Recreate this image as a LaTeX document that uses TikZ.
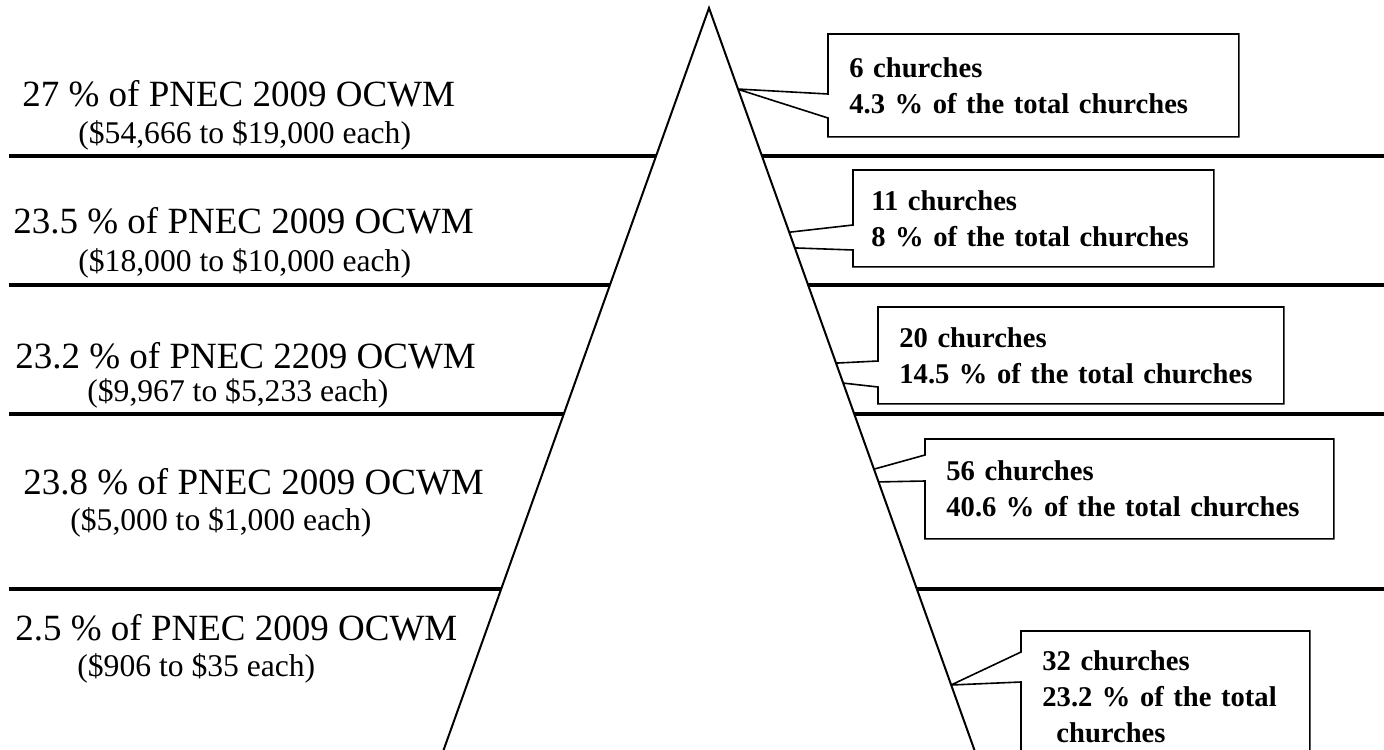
\documentclass[tikz,border=0pt]{standalone}
\usepackage{fontspec}
\setmainfont{Liberation Serif}
\tikzset{
sharetext/.style={anchor=base west, inner sep=0pt, font=\fontsize{18.5}{22}\selectfont},
spantext/.style={anchor=base west, inner sep=0pt, font=\fontsize{15.8}{19}\selectfont},
countbox/.style={anchor=north west, align=left, inner xsep=10.5pt, inner ysep=0pt,
    font=\bfseries\fontsize{14.3}{18}\selectfont},
band/.style={line width=2pt},
wedge/.style={draw, line width=0.8pt}}

\begin{document}
\begin{tikzpicture}[x=0.5pt, y=-0.5pt]
\useasboundingbox (0,0) rectangle (1384,749);

                \foreach \y in {156,285,414,589}
                    \draw[band] (9,\y) -- (1384,\y);

                \node[sharetext] (S1) at (22,106) {27 \% of PNEC 2009 OCWM};
                \node[spantext] (R1) at (78,143) {(\$54,666 to \$19,000 each)};
                \node[sharetext] (S2) at (13,233) {23.5 \% of PNEC 2009 OCWM};
                \node[spantext] (R2) at (78,271) {(\$18,000 to \$10,000 each)};
                \node[sharetext] (S3) at (15,368) {23.2 \% of PNEC 2209 OCWM};
                \node[spantext] (R3) at (87,401) {(\$9,967 to \$5,233 each)};
                \node[sharetext] (S4) at (23,494) {23.8 \% of PNEC 2009 OCWM};
                \node[spantext] (R4) at (70,530) {(\$5,000 to \$1,000 each)};
                \node[sharetext] (S5) at (15,640) {2.5 \% of PNEC 2009 OCWM};
                \node[spantext] (R5) at (77,676) {(\$906 to \$35 each)};

                \node[countbox, text width=184pt, minimum height=51pt] (C1) at (828,34) {6 churches\\4.3 \% of the total churches};
                \node[countbox, inner xsep=9pt, text width=162pt, minimum height=48pt] (C2) at (853,170) {11 churches\\8 \% of the total churches};
                \node[countbox, text width=181.5pt, minimum height=48pt] (C3) at (878,307) {20 churches\\14.5 \% of the total churches};
                \node[countbox, text width=183pt, minimum height=49.5pt] (C4) at (925,439) {56 churches\\40.6 \% of the total churches};
                \node[countbox, text width=123pt, minimum height=65.5pt] (C5) at (1021,631) {32 churches\\23.2 \% of the total\\\hspace*{7pt}churches};

                \coordinate (T1) at (737,89);
                \coordinate (T2) at (685,244);
                \coordinate (T3) at (718,369);
                \coordinate (T4) at (824,483);
                \coordinate (T5) at (951,685);

                \draw[wedge] (C1.west |- 0,94) -- (T1) -- (C1.west |- 0,118) |- (C1.south east) |- (C1.north west) -- cycle;
                \draw[wedge] (C2.west |- 0,225) -- (T2) -- (C2.west |- 0,250) |- (C2.south east) |- (C2.north west) -- cycle;
                \draw[wedge] (C3.west |- 0,361) -- (T3) -- (C3.west |- 0,387) |- (C3.south east) |- (C3.north west) -- cycle;
                \draw[wedge] (C4.west |- 0,455) -- (T4) -- (C4.west |- 0,481) |- (C4.south east) |- (C4.north west) -- cycle;
                \draw[wedge] (C5.west |- 0,652) -- (T5) -- (C5.west |- 0,682) |- (C5.south east) |- (C5.north west) -- cycle;

                \coordinate (apex) at (709,8);
                \coordinate (footL) at (440,760);
                \coordinate (footR) at (978,760);
                \draw[line width=1pt, fill=white] (footL) -- (apex) -- (footR);

\end{tikzpicture}
\end{document}
